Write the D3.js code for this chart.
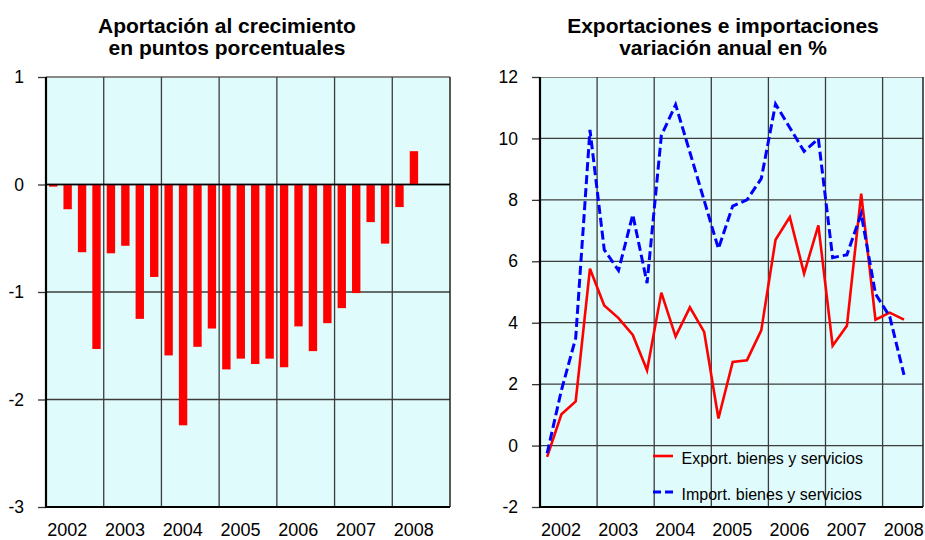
<!DOCTYPE html>
<html lang="es">
<head>
<meta charset="UTF-8">
<title>Aportación y comercio exterior</title>
<script src="https://cdnjs.cloudflare.com/ajax/libs/d3/7.8.5/d3.min.js"></script>
<style>
  body { margin: 0; background: #fff; }
  svg text { font-family: "Liberation Sans", Arial, sans-serif; fill: #000; }
</style>
</head>
<body>
<div id="draw-here"></div>
<script>
// Data (quarterly, 2002 T1 .. 2008 T2)
var years = ["2002", "2003", "2004", "2005", "2006", "2007", "2008"];
var aportacion = [-0.02, -0.23, -0.63, -1.53, -0.64, -0.57, -1.25, -0.86,
                  -1.59, -2.24, -1.51, -1.34, -1.72, -1.62, -1.67, -1.62,
                  -1.70, -1.32, -1.55, -1.29, -1.15, -1.01, -0.35, -0.55,
                  -0.21, 0.31];
var exportaciones = [-0.37, 1.02, 1.44, 5.76, 4.56, 4.15, 3.6, 2.45,
                     4.98, 3.55, 4.5, 3.7, 0.88, 2.72, 2.78, 3.75,
                     6.7, 7.44, 5.6, 7.17, 3.25, 3.9, 8.2, 4.1,
                     4.33, 4.1];
var importaciones = [-0.25, 1.8, 3.5, 10.28, 6.38, 5.7, 7.52, 5.29,
                     10.09, 11.1, 9.55, 7.98, 6.41, 7.8, 8.0, 8.69,
                     11.12, 10.35, 9.58, 9.99, 6.12, 6.21, 7.55, 4.94,
                     4.2, 2.3];
var leftTicks = [1, 0, -1, -2, -3];
var rightTicks = [12, 10, 8, 6, 4, 2, 0, -2];
var legendNames = ["Export. bienes y servicios", "Import. bienes y servicios"];

// quarter categories built from the years
var quarters = [];
years.forEach(function(y) {
    for (var q = 1; q <= 4; q++) quarters.push(y + "T" + q);
});

var W = 925, H = 540;
var bg = "#E0FBFB";
var gridColor = "#3c3c3c";

var svg = d3.select("#draw-here")
    .append("svg")
    .attr("width", W)
    .attr("height", H);

// ---------- shared helpers ----------
function drawFrame(g, x0, x1, y0, y1, xYears, yScale, ticks) {
    g.append("rect")
        .attr("x", x0).attr("y", y0)
        .attr("width", x1 - x0).attr("height", y1 - y0)
        .attr("fill", bg);

    // horizontal gridlines
    g.selectAll(".hgrid").data(ticks).enter()
        .append("line")
        .attr("x1", x0).attr("x2", x1)
        .attr("y1", function(d) { return yScale(d); })
        .attr("y2", function(d) { return yScale(d); })
        .attr("stroke", function(d, i) { return i === 0 ? "#888" : gridColor; })
        .attr("stroke-width", function(d, i) { return i === 0 ? 2 : 1.3; });

    // vertical gridlines at year boundaries
    g.selectAll(".vgrid").data(years.slice(1)).enter()
        .append("line")
        .attr("x1", function(d) { return xYears(d); })
        .attr("x2", function(d) { return xYears(d); })
        .attr("y1", y0).attr("y2", y1)
        .attr("stroke", gridColor)
        .attr("stroke-width", 1.3);

    // right border
    g.append("line")
        .attr("x1", x1).attr("x2", x1).attr("y1", y0).attr("y2", y1)
        .attr("stroke", "#222").attr("stroke-width", 1.5);
}

function drawAxes(g, x0, x1, y0, y1, xYears, yScale, ticks) {
    // y axis (plain hyphen for negatives, as in the original)
    var yAxis = d3.axisLeft(yScale).tickValues(ticks).tickSize(8).tickPadding(14)
        .tickFormat(function(d) { return String(d); });
    var ya = g.append("g").attr("transform", "translate(" + x0 + ",0)").call(yAxis);
    ya.select(".domain").remove();
    ya.selectAll(".tick line").attr("stroke", "#333").attr("stroke-width", 1.3);
    ya.selectAll("text").attr("font-size", "17.5px").attr("fill", "#000");

    // x labels (no ticks), slightly left of the band centre
    var xa = g.append("g").attr("transform", "translate(0," + y1 + ")")
        .call(d3.axisBottom(xYears).tickSize(0).tickPadding(16));
    xa.select(".domain").remove();
    xa.selectAll("text").attr("font-size", "18px").attr("fill", "#000")
        .attr("dx", "-7.5");

    // axis lines
    g.append("line").attr("x1", x0).attr("x2", x0).attr("y1", y0).attr("y2", y1 + 1)
        .attr("stroke", "#000").attr("stroke-width", 2.2);
    g.append("line").attr("x1", x0).attr("x2", x1).attr("y1", y1).attr("y2", y1)
        .attr("stroke", "#000").attr("stroke-width", 2.2);
}

function drawTitle(cx, lines) {
    svg.append("text")
        .attr("x", cx).attr("y", 32.5)
        .attr("text-anchor", "middle")
        .attr("font-size", "21px").attr("font-weight", "bold")
        .selectAll("tspan").data(lines).enter()
        .append("tspan")
        .attr("x", cx)
        .attr("dy", function(d, i) { return i === 0 ? 0 : 22.5; })
        .text(function(d) { return d; });
}

// ---------- left chart: bars ----------
var L = { x0: 46, x1: 450, y0: 77, y1: 507 };
var gL = svg.append("g");
var xYearsL = d3.scaleBand().domain(years).range([L.x0, L.x1]);
var xQL = d3.scaleBand().domain(quarters).range([L.x0, L.x1])
    .paddingInner(0.42).paddingOuter(0.21);
var yL = d3.scaleLinear().domain([-3, 1]).range([L.y1, L.y0]);

drawFrame(gL, L.x0, L.x1, L.y0, L.y1, xYearsL, yL, leftTicks);

gL.selectAll("rect.bar").data(aportacion).enter()
    .append("rect")
    .attr("class", "bar")
    .attr("x", function(d, i) { return xQL(quarters[i]); })
    .attr("width", xQL.bandwidth())
    .attr("y", function(d) { return yL(Math.max(0, d)); })
    .attr("height", function(d) { return Math.abs(yL(d) - yL(0)); })
    .attr("fill", "#FF0000");

// zero line on top of the bars
gL.append("line").attr("x1", L.x0).attr("x2", L.x1)
    .attr("y1", yL(0)).attr("y2", yL(0))
    .attr("stroke", "#000").attr("stroke-width", 1.3);

drawAxes(gL, L.x0, L.x1, L.y0, L.y1, xYearsL, yL, leftTicks);
drawTitle(227, ["Aportación al crecimiento", "en puntos porcentuales"]);

// ---------- right chart: lines ----------
var R = { x0: 540, x1: 923, y0: 77, y1: 507, xEnd: 939.7 };
var gR = svg.append("g");
var xYearsR = d3.scaleBand().domain(years).range([R.x0, R.xEnd]);
var xQR = d3.scaleBand().domain(quarters).range([R.x0, R.xEnd]);
var yR = d3.scaleLinear().domain([-2, 12]).range([R.y1, R.y0]);

gR.append("clipPath").attr("id", "clipR")
    .append("rect").attr("x", R.x0).attr("y", R.y0)
    .attr("width", R.x1 - R.x0).attr("height", R.y1 - R.y0);

var gRframe = gR.append("g").attr("clip-path", "url(#clipR)");
drawFrame(gRframe, R.x0, R.xEnd, R.y0, R.y1, xYearsR, yR, rightTicks);
gR.append("line")
    .attr("x1", R.x1).attr("x2", R.x1).attr("y1", R.y0).attr("y2", R.y1)
    .attr("stroke", "#222").attr("stroke-width", 1.5);

var line = d3.line()
    .x(function(d, i) { return xQR(quarters[i]) + xQR.bandwidth() / 2; })
    .y(function(d) { return yR(d); });

gR.append("path")
    .datum(exportaciones)
    .attr("d", line)
    .attr("fill", "none")
    .attr("stroke", "#FF0000")
    .attr("stroke-width", 2.6)
    .attr("stroke-linejoin", "miter");

gR.append("path")
    .datum(importaciones)
    .attr("d", line)
    .attr("fill", "none")
    .attr("stroke", "#0000FF")
    .attr("stroke-width", 3)
    .attr("stroke-dasharray", "9,4");

drawAxes(gR, R.x0, R.x1, R.y0, R.y1, xYearsR, yR, rightTicks);
drawTitle(723, ["Exportaciones e importaciones", "variación anual en %"]);

// legend
var legend = gR.append("g").attr("transform", "translate(653,456)");
var items = legend.selectAll("g").data(legendNames).enter()
    .append("g")
    .attr("transform", function(d, i) { return "translate(0," + (i * 36) + ")"; });
items.append("line")
    .attr("x1", 0).attr("x2", 20).attr("y1", 0).attr("y2", 0)
    .attr("stroke", function(d, i) { return i === 0 ? "#FF0000" : "#0000FF"; })
    .attr("stroke-width", function(d, i) { return i === 0 ? 2.6 : 3; })
    .attr("stroke-dasharray", function(d, i) { return i === 0 ? null : "8,4"; });
items.append("text")
    .attr("x", 28.5).attr("y", 7.5)
    .attr("font-size", "16px")
    .text(function(d) { return d; });
</script>
</body>
</html>
